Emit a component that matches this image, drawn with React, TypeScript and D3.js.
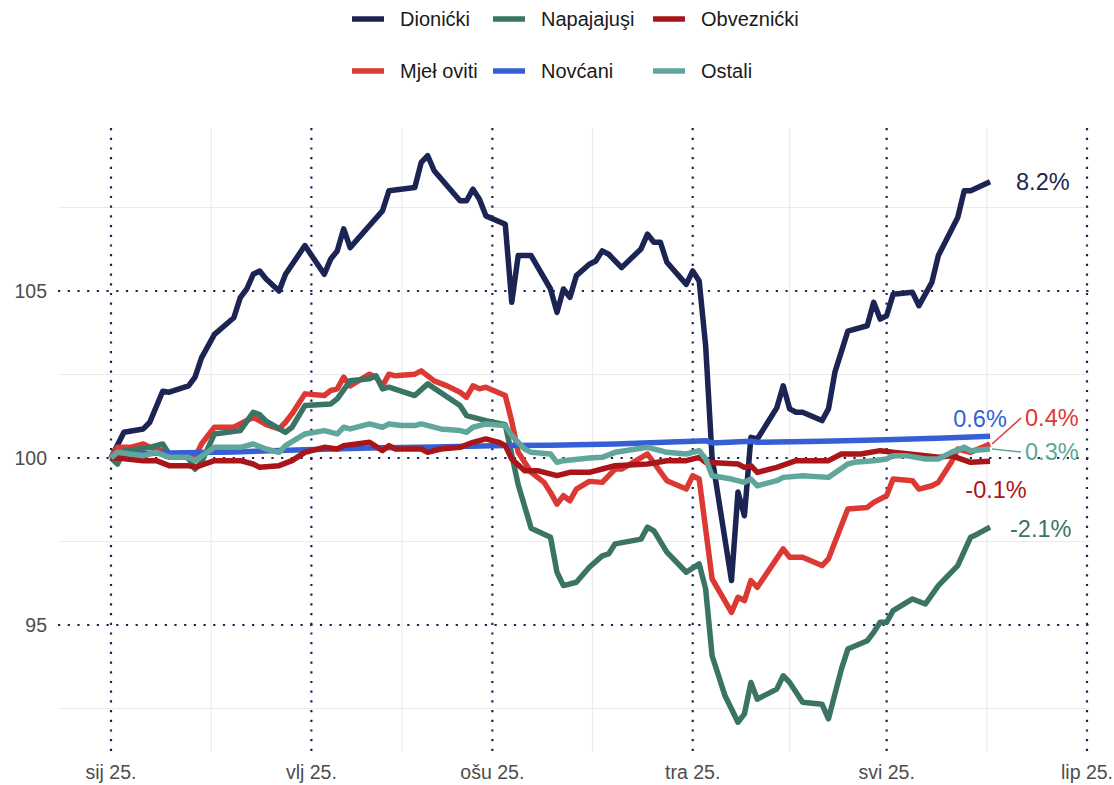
import React from "react";
import * as d3 from "d3";

type Pt = [string, number];

// values, index 100 = 1 Jan 2025
const dionicki: Pt[] = [
  ["01-01", 100.0], ["01-03", 100.77], ["01-06", 100.87], ["01-07", 101.07], ["01-09", 102.0], ["01-10", 101.97],
  ["01-13", 102.16], ["01-14", 102.42], ["01-15", 103.0], ["01-17", 103.7], ["01-20", 104.2], ["01-21", 104.8],
  ["01-22", 105.06], ["01-23", 105.5], ["01-24", 105.6], ["01-25", 105.36], ["01-27", 105.0], ["01-28", 105.5],
  ["01-31", 106.36], ["02-03", 105.5], ["02-04", 105.96], ["02-05", 106.2], ["02-06", 106.86], ["02-07", 106.3],
  ["02-10", 106.96], ["02-12", 107.4], ["02-13", 108.0], ["02-17", 108.1], ["02-18", 108.85], ["02-19", 109.05],
  ["02-20", 108.6], ["02-24", 107.7], ["02-25", 107.7], ["02-26", 108.05], ["02-27", 107.75], ["02-28", 107.25],
  ["03-03", 107.0], ["03-04", 104.66], ["03-05", 106.06], ["03-07", 106.06], ["03-10", 105.06], ["03-11", 104.36],
  ["03-12", 105.06], ["03-13", 104.81], ["03-14", 105.46], ["03-16", 105.8], ["03-17", 105.9], ["03-18", 106.2],
  ["03-19", 106.1], ["03-21", 105.7], ["03-24", 106.26], ["03-25", 106.7], ["03-26", 106.46], ["03-27", 106.46],
  ["03-28", 105.86], ["03-31", 105.2], ["04-01", 105.6], ["04-02", 105.3], ["04-03", 103.36], ["04-04", 100.0],
  ["04-07", 96.33], ["04-08", 98.98], ["04-09", 98.27], ["04-10", 100.62], ["04-11", 100.57], ["04-14", 101.5],
  ["04-15", 102.16], ["04-16", 101.47], ["04-17", 101.37], ["04-18", 101.37], ["04-21", 101.12], ["04-22", 101.47],
  ["04-23", 102.57], ["04-25", 103.8], ["04-28", 103.96], ["04-29", 104.66], ["04-30", 104.16], ["05-01", 104.26],
  ["05-02", 104.9], ["05-05", 104.96], ["05-06", 104.56], ["05-08", 105.26], ["05-09", 106.06], ["05-12", 107.2],
  ["05-13", 108.0], ["05-14", 108.0], ["05-17", 108.27],
];

const napajajusi: Pt[] = [
  ["01-01", 100.0], ["01-02", 99.82], ["01-03", 100.2], ["01-07", 100.32], ["01-09", 100.42], ["01-10", 100.12],
  ["01-13", 100.0], ["01-14", 99.67], ["01-15", 99.87], ["01-17", 100.72], ["01-21", 100.82], ["01-23", 101.37],
  ["01-24", 101.3], ["01-25", 101.1], ["01-28", 100.77], ["01-29", 100.92], ["01-31", 101.57], ["02-04", 101.62],
  ["02-05", 101.77], ["02-07", 102.31], ["02-10", 102.37], ["02-11", 102.46], ["02-12", 102.07], ["02-13", 102.12],
  ["02-17", 101.87], ["02-19", 102.22], ["02-24", 101.57], ["02-25", 101.27], ["02-28", 101.12], ["03-03", 101.0],
  ["03-05", 99.2], ["03-07", 97.9], ["03-10", 97.63], ["03-11", 96.58], ["03-12", 96.18], ["03-14", 96.28],
  ["03-16", 96.73], ["03-18", 97.07], ["03-19", 97.13], ["03-20", 97.43], ["03-24", 97.57], ["03-25", 97.93],
  ["03-26", 97.82], ["03-28", 97.18], ["03-31", 96.58], ["04-02", 96.83], ["04-03", 96.08], ["04-04", 94.08],
  ["04-06", 92.88], ["04-08", 92.09], ["04-09", 92.34], ["04-10", 93.28], ["04-11", 92.78], ["04-14", 93.08],
  ["04-15", 93.48], ["04-16", 93.28], ["04-18", 92.69], ["04-21", 92.63], ["04-22", 92.19], ["04-24", 93.68],
  ["04-25", 94.28], ["04-28", 94.53], ["04-29", 94.78], ["04-30", 95.08], ["05-01", 95.08], ["05-02", 95.43],
  ["05-05", 95.78], ["05-07", 95.63], ["05-09", 96.18], ["05-12", 96.78], ["05-14", 97.63], ["05-15", 97.72],
  ["05-17", 97.93],
];

const obveznicki: Pt[] = [
  ["01-01", 100.0], ["01-02", 100.0], ["01-06", 99.92], ["01-08", 99.92], ["01-10", 99.77], ["01-13", 99.77],
  ["01-14", 99.72], ["01-17", 99.92], ["01-21", 99.92], ["01-23", 99.82], ["01-24", 99.72], ["01-27", 99.77],
  ["01-29", 99.92], ["01-31", 100.17], ["02-03", 100.32], ["02-05", 100.27], ["02-06", 100.37], ["02-10", 100.47],
  ["02-12", 100.22], ["02-13", 100.37], ["02-14", 100.27], ["02-18", 100.27], ["02-19", 100.17], ["02-21", 100.27],
  ["02-24", 100.32], ["02-26", 100.47], ["02-28", 100.57], ["03-02", 100.47], ["03-03", 100.37], ["03-04", 99.97],
  ["03-06", 99.62], ["03-08", 99.62], ["03-11", 99.47], ["03-13", 99.57], ["03-16", 99.57], ["03-18", 99.67],
  ["03-20", 99.77], ["03-25", 99.82], ["03-28", 99.92], ["03-31", 99.92], ["04-02", 100.02], ["04-03", 99.87],
  ["04-08", 99.82], ["04-09", 99.72], ["04-10", 99.77], ["04-11", 99.57], ["04-14", 99.72], ["04-17", 99.92],
  ["04-22", 99.92], ["04-24", 100.12], ["04-27", 100.12], ["04-30", 100.22], ["05-02", 100.17], ["05-07", 100.07],
  ["05-09", 100.02], ["05-11", 100.07], ["05-14", 99.87], ["05-17", 99.9],
];

const mjesoviti: Pt[] = [
  ["01-01", 100.0], ["01-02", 100.32], ["01-04", 100.32], ["01-06", 100.42], ["01-07", 100.32], ["01-09", 100.22],
  ["01-10", 100.12], ["01-13", 100.12], ["01-14", 100.02], ["01-15", 100.42], ["01-17", 100.92], ["01-20", 100.92],
  ["01-23", 101.22], ["01-25", 101.0], ["01-27", 100.87], ["01-28", 101.07], ["01-29", 101.32], ["01-31", 101.92],
  ["02-03", 101.87], ["02-04", 102.02], ["02-05", 102.07], ["02-06", 102.42], ["02-07", 102.16], ["02-10", 102.51],
  ["02-11", 102.42], ["02-12", 102.16], ["02-13", 102.51], ["02-14", 102.46], ["02-17", 102.51], ["02-18", 102.61],
  ["02-20", 102.31], ["02-22", 102.16], ["02-24", 101.97], ["02-25", 101.82], ["02-26", 102.16], ["02-27", 102.07],
  ["02-28", 102.12], ["03-03", 101.87], ["03-04", 101.1], ["03-05", 100.17], ["03-07", 99.57], ["03-09", 99.27],
  ["03-10", 98.97], ["03-11", 98.62], ["03-12", 98.87], ["03-13", 98.72], ["03-14", 99.07], ["03-16", 99.3],
  ["03-18", 99.27], ["03-20", 99.67], ["03-21", 99.67], ["03-25", 100.12], ["03-28", 99.32], ["03-31", 99.07],
  ["04-01", 99.47], ["04-02", 99.37], ["04-04", 96.38], ["04-07", 95.38], ["04-08", 95.83], ["04-09", 95.73],
  ["04-10", 96.33], ["04-11", 96.13], ["04-15", 97.28], ["04-16", 97.03], ["04-18", 97.03], ["04-21", 96.78],
  ["04-22", 96.98], ["04-24", 97.98], ["04-25", 98.47], ["04-28", 98.52], ["04-29", 98.67], ["05-01", 98.87],
  ["05-02", 99.37], ["05-05", 99.32], ["05-06", 99.07], ["05-08", 99.17], ["05-09", 99.27], ["05-11", 99.87],
  ["05-12", 100.27], ["05-14", 100.17], ["05-17", 100.42],
];

const novcani: Pt[] = [
  ["01-01", 100.0], ["01-03", 100.12], ["01-10", 100.15], ["01-20", 100.18], ["01-31", 100.25], ["02-10", 100.3],
  ["02-20", 100.33], ["03-01", 100.37], ["03-10", 100.38], ["03-20", 100.42], ["04-01", 100.5], ["04-03", 100.52],
  ["04-04", 100.45], ["04-10", 100.5], ["04-11", 100.47], ["04-21", 100.5], ["05-01", 100.55], ["05-10", 100.6],
  ["05-17", 100.65],
];

const ostali: Pt[] = [
  ["01-01", 100.0], ["01-02", 100.17], ["01-06", 100.07], ["01-08", 100.17], ["01-10", 100.02], ["01-13", 100.02],
  ["01-14", 99.92], ["01-17", 100.32], ["01-21", 100.32], ["01-23", 100.42], ["01-25", 100.27], ["01-27", 100.17],
  ["01-28", 100.37], ["01-31", 100.72], ["02-03", 100.82], ["02-05", 100.72], ["02-06", 100.92], ["02-07", 100.87],
  ["02-10", 101.02], ["02-12", 100.92], ["02-13", 101.02], ["02-15", 100.97], ["02-17", 100.97], ["02-18", 101.02],
  ["02-21", 100.87], ["02-24", 100.82], ["02-25", 100.77], ["02-26", 100.92], ["02-28", 101.02], ["03-03", 100.97],
  ["03-04", 100.67], ["03-06", 100.27], ["03-07", 100.17], ["03-10", 100.12], ["03-11", 99.87], ["03-12", 99.92],
  ["03-16", 100.0], ["03-18", 100.02], ["03-20", 100.17], ["03-25", 100.32], ["03-27", 100.22], ["03-28", 100.17],
  ["03-31", 100.12], ["04-02", 100.22], ["04-03", 99.97], ["04-04", 99.47], ["04-07", 99.37], ["04-09", 99.27],
  ["04-10", 99.37], ["04-11", 99.17], ["04-14", 99.32], ["04-15", 99.42], ["04-18", 99.47], ["04-22", 99.42],
  ["04-25", 99.82], ["04-26", 99.87], ["04-29", 99.92], ["05-01", 99.97], ["05-02", 100.07], ["05-04", 100.07],
  ["05-07", 99.97], ["05-09", 99.97], ["05-11", 100.17], ["05-13", 100.32], ["05-14", 100.22], ["05-17", 100.27],
];

const seriesNames = ["Dionićki", "Mjeł oviti", "Napajajuşi", "Novćani", "Obveznićki", "Ostali"];
const seriesData = [dionicki, mjesoviti, napajajusi, novcani, obveznicki, ostali];
const seriesColors = ["#1b2453", "#dc3934", "#3a7464", "#365fd6", "#a91519", "#60a69b"];
const endLabels = ["8.2%", "0.4%", "-2.1%", "0.6%", "-0.1%", "0.3%"];

const xTickDates = ["2025-01-01", "2025-02-01", "2025-03-01", "2025-04-01", "2025-05-01", "2025-06-01"];
const xTickLabels = ["sij 25.", "vlj 25.", "ošu 25.", "tra 25.", "svi 25.", "lip 25."];
const yTicks = [95, 100, 105];
const yMinor = [92.5, 97.5, 102.5, 107.5];

// label placement relative to the last point: [dx, dy, anchor, leader line]
const labelPos: [number, number, string, boolean][] = [
  [26, 0, "start", false],
  [35, -26, "start", true],
  [20, 2, "start", false],
  [-10, -18, "middle", false],
  [6, 28, "middle", false],
  [35, 3, "start", true],
];

// legend: drawn column-wise, 2 rows
const legendCols = [352, 493, 653];
const legendRows = [19, 71];

const W = 1114;
const H = 785;
const panel = { left: 58, right: 1090, top: 128, bottom: 752 };
const font = "'Liberation Sans', Arial, Helvetica, sans-serif";

const parse = d3.timeParse("%Y-%m-%d");

export default function App() {
  const x = d3.scaleTime()
    .domain([parse(xTickDates[0])!, parse(xTickDates[xTickDates.length - 1])!])
    .range([111, 1087]);
  const y = d3.scaleLinear().domain([95, 105]).range([625, 291]);

  const majorX = xTickDates.map((d) => x(parse(d)!));
  const minorX = majorX.slice(1).map((v, i) => (v + majorX[i]) / 2);

  const line = d3.line<Pt>()
    .x((d) => x(parse("2025-" + d[0])!))
    .y((d) => y(d[1]));

  const dots = "2.2 7.5";

  return (
    <svg width={W} height={H} style={{ position: "absolute", left: 0, top: 0, background: "#fff" }} fontFamily={font}>
      {/* minor grid */}
      {yMinor.map((v) => (
        <line key={"ym" + v} x1={panel.left} x2={panel.right} y1={y(v)} y2={y(v)} stroke="#ebebeb" strokeWidth={1.2} />
      ))}
      {minorX.map((v, i) => (
        <line key={"xm" + i} x1={v} x2={v} y1={panel.top} y2={panel.bottom} stroke="#ebebeb" strokeWidth={1.2} />
      ))}
      {/* major dotted grid */}
      {yTicks.map((v) => (
        <line key={"y" + v} x1={panel.left} x2={panel.right} y1={y(v)} y2={y(v)} stroke="#1b2453" strokeWidth={2.2} strokeDasharray={dots} />
      ))}
      {majorX.map((v, i) => (
        <line key={"x" + i} x1={v} x2={v} y1={panel.top} y2={panel.bottom} stroke="#1b2453" strokeWidth={2.2} strokeDasharray={dots} />
      ))}

      {/* series */}
      {seriesData.map((s, i) => (
        <path key={seriesNames[i]} d={line(s) ?? ""} fill="none" stroke={seriesColors[i]} strokeWidth={5.5} strokeLinejoin="round" />
      ))}

      {/* end labels */}
      {seriesData.map((s, i) => {
        const last = s[s.length - 1];
        const px = x(parse("2025-" + last[0])!);
        const py = y(last[1]);
        const [dx, dy, anchor, leader] = labelPos[i];
        return (
          <g key={"lab" + i}>
            {leader && (
              <line x1={px + 2} y1={py} x2={px + dx - 4} y2={py + dy} stroke={seriesColors[i]} strokeWidth={1.5} />
            )}
            <text x={px + dx} y={py + dy} dy="0.35em" textAnchor={anchor} fontSize={23.5} fill={seriesColors[i]}>
              {endLabels[i]}
            </text>
          </g>
        );
      })}

      {/* axes text */}
      {yTicks.map((v) => (
        <text key={"yl" + v} x={47} y={y(v)} dy="0.35em" textAnchor="end" fontSize={19.5} fill="#4d4d4d">{v}</text>
      ))}
      {majorX.map((v, i) => (
        <text key={"xl" + i} x={v} y={772} dy="0.35em" textAnchor="middle" fontSize={19.5} fill="#4d4d4d">{xTickLabels[i]}</text>
      ))}

      {/* legend */}
      {seriesNames.map((n, i) => {
        const cx = legendCols[Math.floor(i / 2)];
        const cy = legendRows[i % 2];
        return (
          <g key={"lg" + i}>
            <line x1={cx} x2={cx + 32} y1={cy} y2={cy} stroke={seriesColors[i]} strokeWidth={5.5} />
            <text x={cx + 48} y={cy} dy="0.35em" fontSize={20} fill="#1a1a1a">{n}</text>
          </g>
        );
      })}
    </svg>
  );
}
